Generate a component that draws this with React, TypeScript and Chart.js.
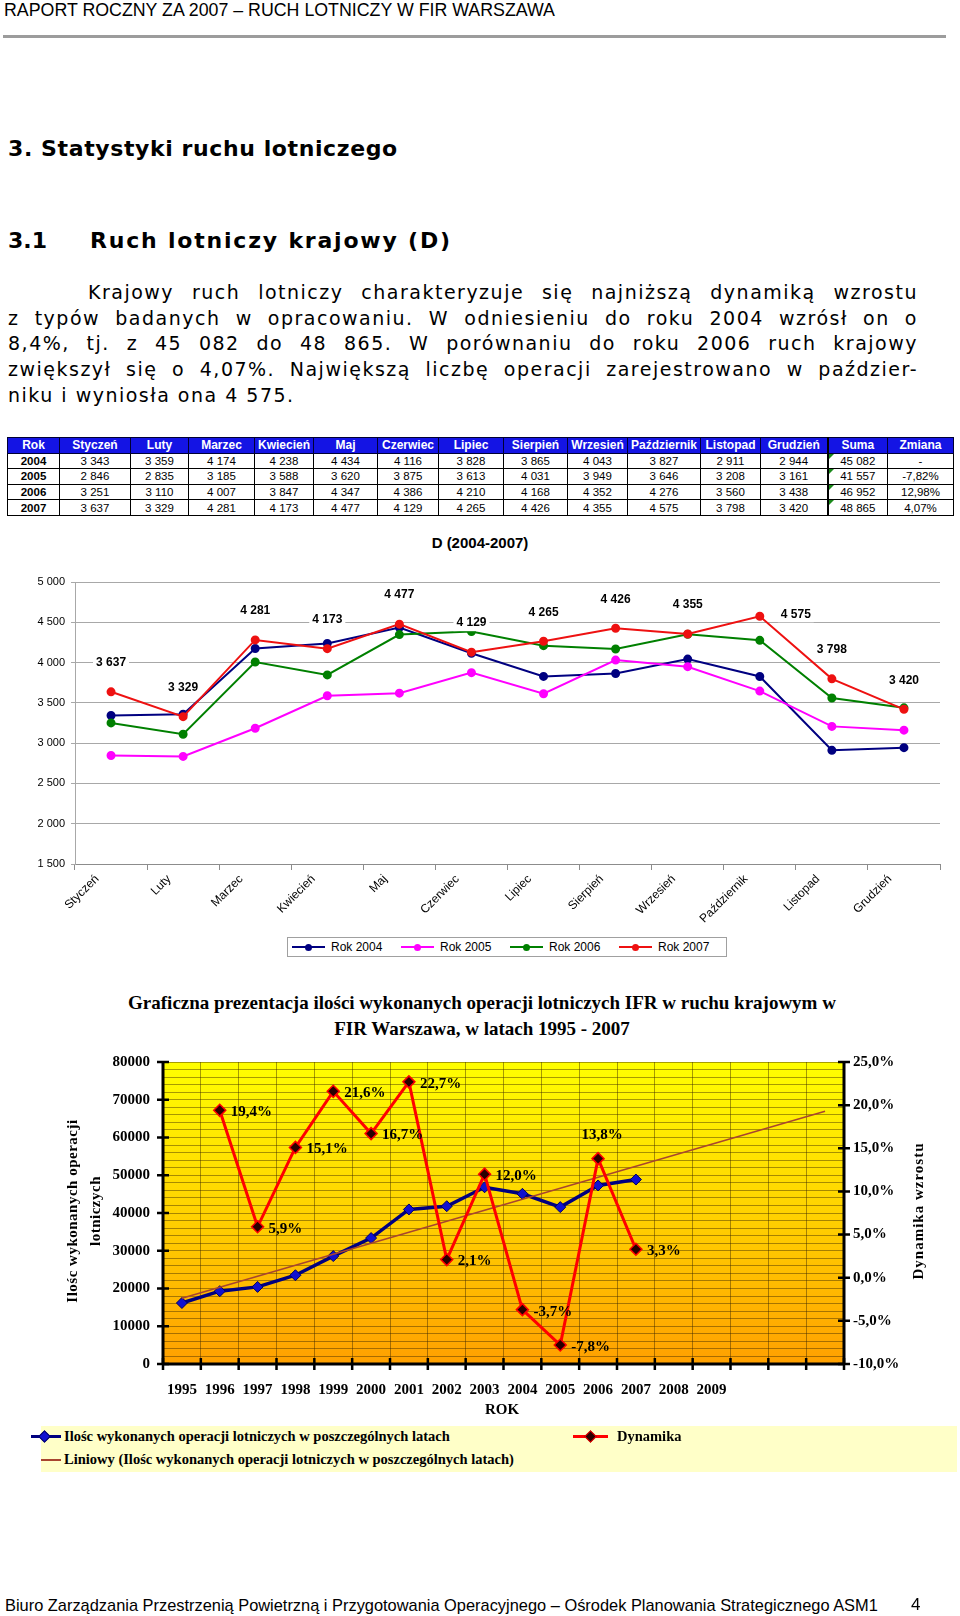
import React, { useEffect, useRef } from 'react';
import { Chart, registerables } from 'chart.js';

Chart.register(...registerables);

// ---------------- data ----------------
const months = ['Styczeń', 'Luty', 'Marzec', 'Kwiecień', 'Maj', 'Czerwiec', 'Lipiec', 'Sierpień', 'Wrzesień', 'Październik', 'Listopad', 'Grudzień'];
const tableYears = ['2004', '2005', '2006', '2007'];
const rok2004 = [3343, 3359, 4174, 4238, 4434, 4116, 3828, 3865, 4043, 3827, 2911, 2944];
const rok2005 = [2846, 2835, 3185, 3588, 3620, 3875, 3613, 4031, 3949, 3646, 3208, 3161];
const rok2006 = [3251, 3110, 4007, 3847, 4347, 4386, 4210, 4168, 4352, 4276, 3560, 3438];
const rok2007 = [3637, 3329, 4281, 4173, 4477, 4129, 4265, 4426, 4355, 4575, 3798, 3420];
const yearSums = [45082, 41557, 46952, 48865];
const yearChanges = ['-', '-7,82%', '12,98%', '4,07%'];
const monthlyMin = 1500;
const monthlyMax = 5000;
const monthlyStep = 500;

const annualYears = ['1995', '1996', '1997', '1998', '1999', '2000', '2001', '2002', '2003', '2004', '2005', '2006', '2007', '2008', '2009', '', '', ''];
const annualOperations = [16155, 19289, 20427, 23511, 28590, 33364, 40938, 41798, 46814, 45082, 41557, 47300, 48865];
const annualDynamics = [null, 19.4, 5.9, 15.1, 21.6, 16.7, 22.7, 2.1, 12.0, -3.7, -7.8, 13.8, 3.3];
const trendFirst = 17400;
const trendLast = 66960;
const opsMin = 0;
const opsMax = 80000;
const opsMajor = 10000;
const opsMinor = 2000;
const dynMin = -10;
const dynMax = 25;
const dynStep = 5;

// ---------------- helpers ----------------
const SANS = '"Liberation Sans", Arial, sans-serif';
const VERD = '"DejaVu Sans", Verdana, sans-serif';
const SERIF = '"Liberation Serif", "Times New Roman", serif';
const fmt = (n: number) => String(n).replace(/\B(?=(\d{3})+(?!\d))/g, ' ');
const pct = (v: number) => v.toFixed(1).replace('.', ',') + '%';

const monthlySeries = [
  { label: 'Rok 2004', data: rok2004, color: '#000080' },
  { label: 'Rok 2005', data: rok2005, color: '#FF00FF' },
  { label: 'Rok 2006', data: rok2006, color: '#008000' },
  { label: 'Rok 2007', data: rok2007, color: '#EE1111' },
];

// ---------------- chart 1 ----------------
function MonthlyChart() {
  const ref = useRef<HTMLCanvasElement>(null);
  useEffect(() => {
    const labelPlugin = {
      id: 'labels2007',
      afterDatasetsDraw(chart: any) {
        const meta = chart.getDatasetMeta(3);
        const ctx = chart.ctx;
        ctx.save();
        ctx.font = `bold 12px ${SANS}`;
        ctx.textAlign = 'center';
        ctx.textBaseline = 'middle';
        meta.data.forEach((pt: any, i: number) => {
          const text = fmt(rok2007[i]);
          let x = pt.x;
          let y = pt.y - 29;
          if (i === 9) { x = pt.x + 36; y = pt.y - 2; }
          const w = ctx.measureText(text).width;
          ctx.fillStyle = '#fff';
          ctx.fillRect(x - w / 2 - 3, y - 8, w + 6, 16);
          ctx.fillStyle = '#000';
          ctx.fillText(text, x, y);
        });
        ctx.restore();
      },
    };
    const chart = new Chart(ref.current as HTMLCanvasElement, {
      type: 'line',
      data: {
        labels: months,
        datasets: monthlySeries.map((s, i) => ({
          label: s.label,
          data: s.data,
          borderColor: s.color,
          backgroundColor: s.color,
          pointBackgroundColor: s.color,
          pointBorderColor: s.color,
          borderWidth: 2,
          pointRadius: 3.5,
          tension: 0,
          fill: false,
          order: 3 - i,
        })),
      },
      options: {
        animation: false,
        responsive: false,
        layout: { padding: { top: 22, right: 20, left: 0, bottom: 0 } },
        plugins: { legend: { display: false }, title: { display: false }, tooltip: { enabled: false } },
        scales: {
          x: {
            offset: true,
            grid: { display: true, drawOnChartArea: false, drawTicks: true, tickLength: 6, offset: true, color: '#8c8c8c' },
            border: { display: true, color: '#8c8c8c' },
            ticks: { minRotation: 45, maxRotation: 45, autoSkip: false, padding: 2, labelOffset: -14, color: '#000', font: { family: SANS, size: 12 } },
            afterFit: (s: any) => { s.height = 66; },
          },
          y: {
            min: monthlyMin,
            max: monthlyMax,
            ticks: { stepSize: monthlyStep, callback: (v: any) => fmt(Number(v)), color: '#000', padding: 6, font: { family: SANS, size: 11 } },
            grid: { color: '#a8a8a8', tickLength: 4 },
            border: { display: true, color: '#a8a8a8' },
            afterFit: (s: any) => { s.width = 75; },
          },
        },
      } as any,
      plugins: [labelPlugin],
    });
    return () => chart.destroy();
  }, []);
  return <canvas ref={ref} width={960} height={370} style={{ position: 'absolute', left: 0, top: 560, width: 960, height: 370 }} />;
}

// ---------------- chart 2 ----------------
function AnnualChart() {
  const ref = useRef<HTMLCanvasElement>(null);
  useEffect(() => {
    const bgPlugin = {
      id: 'plotBg',
      beforeDraw(chart: any) {
        const { ctx, chartArea: a } = chart;
        const g = ctx.createLinearGradient(0, a.top, 0, a.bottom);
        g.addColorStop(0, '#FFFF00');
        g.addColorStop(0.5, '#FFD200');
        g.addColorStop(1, '#FFA000');
        ctx.save();
        ctx.fillStyle = g;
        ctx.fillRect(a.left, a.top, a.right - a.left, a.bottom - a.top);
        ctx.restore();
      },
    };
    const axesPlugin = {
      id: 'crossAxes',
      afterDraw(chart: any) {
        const { ctx, chartArea: a } = chart;
        const ys = chart.scales.y;
        const y1 = chart.scales.y1;
        ctx.save();
        ctx.strokeStyle = '#000';
        ctx.lineWidth = 3;
        ctx.beginPath();
        ctx.moveTo(a.left, a.top - 1); ctx.lineTo(a.left, a.bottom + 1);
        ctx.moveTo(a.right, a.top - 1); ctx.lineTo(a.right, a.bottom + 1);
        ctx.moveTo(a.left, a.bottom); ctx.lineTo(a.right, a.bottom);
        ctx.stroke();
        ctx.lineWidth = 2.5;
        ctx.beginPath();
        for (let v = opsMin; v <= opsMax; v += opsMajor) {
          const y = ys.getPixelForValue(v);
          ctx.moveTo(a.left - 6, y); ctx.lineTo(a.left + 6, y);
        }
        for (let v = dynMin; v <= dynMax; v += dynStep) {
          const y = y1.getPixelForValue(v);
          ctx.moveTo(a.right - 6, y); ctx.lineTo(a.right + 6, y);
        }
        const n = annualYears.length;
        for (let i = 0; i <= n; i++) {
          const x = a.left + (i * (a.right - a.left)) / n;
          ctx.moveTo(x, a.bottom - 6); ctx.lineTo(x, a.bottom + 6);
        }
        ctx.stroke();
        // dynamics labels
        const meta = chart.getDatasetMeta(0);
        ctx.font = `bold 15px ${SERIF}`;
        ctx.fillStyle = '#000';
        ctx.textBaseline = 'middle';
        meta.data.forEach((pt: any, i: number) => {
          const v = annualDynamics[i];
          if (v === null || v === undefined) return;
          const text = pct(v);
          if (i === 11) {
            ctx.textAlign = 'center';
            ctx.fillText(text, pt.x + 4, pt.y - 24);
          } else {
            ctx.textAlign = 'left';
            ctx.fillText(text, pt.x + 11, pt.y + 2);
          }
        });
        ctx.restore();
      },
    };
    const trendData = annualYears.map((_, i) => (i === 0 ? trendFirst : i === annualYears.length - 1 ? trendLast : null));
    const chart = new Chart(ref.current as HTMLCanvasElement, {
      type: 'line',
      data: {
        labels: annualYears,
        datasets: [
          {
            label: 'Dynamika',
            data: annualDynamics,
            yAxisID: 'y1',
            borderColor: '#FF0000',
            borderWidth: 3,
            pointStyle: 'rectRot',
            pointRadius: 6,
            pointBackgroundColor: '#2a0000',
            pointBorderColor: '#FF0000',
            pointBorderWidth: 1.5,
            tension: 0,
            fill: false,
            order: 0,
          },
          {
            label: 'Liniowy (Ilośc wykonanych operacji lotniczych w poszczególnych latach)',
            data: trendData,
            yAxisID: 'y',
            borderColor: '#A8452F',
            borderWidth: 1.5,
            pointRadius: 0,
            spanGaps: true,
            tension: 0,
            fill: false,
            order: 1,
          },
          {
            label: 'Ilośc wykonanych operacji lotniczych w poszczególnych latach',
            data: annualOperations,
            yAxisID: 'y',
            borderColor: '#000080',
            borderWidth: 3.5,
            pointStyle: 'rectRot',
            pointRadius: 5.5,
            pointBackgroundColor: '#1010D0',
            pointBorderColor: '#000060',
            pointBorderWidth: 1,
            tension: 0,
            fill: false,
            order: 2,
          },
        ],
      },
      options: {
        animation: false,
        responsive: false,
        layout: { padding: { top: 18, right: 0, left: 0, bottom: 0 } },
        plugins: { legend: { display: false }, title: { display: false }, tooltip: { enabled: false } },
        scales: {
          x: {
            offset: true,
            grid: { display: true, offset: true, drawTicks: false, color: 'rgba(60,40,0,0.45)', lineWidth: 1 },
            border: { display: false },
            ticks: { autoSkip: false, maxRotation: 0, minRotation: 0, padding: 17, color: '#000', font: { family: SERIF, size: 15, weight: 'bold' } },
            afterFit: (s: any) => { s.height = 46; },
          },
          y: {
            position: 'left',
            min: opsMin,
            max: opsMax,
            ticks: {
              stepSize: opsMinor,
              autoSkip: false,
              callback: (v: any) => (Number(v) % opsMajor === 0 ? String(v) : ''),
              color: '#000',
              padding: 13,
              font: { family: SERIF, size: 15, weight: 'bold' },
            },
            grid: { drawTicks: false, color: 'rgba(60,40,0,0.45)', lineWidth: 1 },
            border: { display: false },
            afterFit: (s: any) => { s.width = 163; },
          },
          y1: {
            position: 'right',
            min: dynMin,
            max: dynMax,
            ticks: { stepSize: dynStep, autoSkip: false, callback: (v: any) => pct(Number(v)), color: '#000', padding: 9, font: { family: SERIF, size: 15, weight: 'bold' } },
            grid: { drawOnChartArea: false, drawTicks: false },
            border: { display: false },
            afterFit: (s: any) => { s.width = 116; },
          },
        },
      } as any,
      plugins: [bgPlugin, axesPlugin],
    });
    return () => chart.destroy();
  }, []);
  return <canvas ref={ref} width={960} height={370} style={{ position: 'absolute', left: 0, top: 1040, width: 960, height: 370 }} />;
}

// ---------------- table ----------------
const colWidths = [52, 71, 58, 66, 59, 64, 61, 65, 64, 60, 73, 60, 67, 60, 66];
function DataTable() {
  const headers = ['Rok', ...months, 'Suma', 'Zmiana'];
  const rows = [rok2004, rok2005, rok2006, rok2007];
  const cell: React.CSSProperties = { border: '1px solid #000', padding: 0, textAlign: 'center', height: 14.6, lineHeight: '14px', whiteSpace: 'nowrap', overflow: 'hidden' };
  return (
    <table style={{ position: 'absolute', left: 7, top: 437, width: 946, borderCollapse: 'collapse', tableLayout: 'fixed', font: `11.5px ${SANS}`, color: '#000' }}>
      <colgroup>{colWidths.map((w, i) => <col key={i} style={{ width: w }} />)}</colgroup>
      <thead>
        <tr>
          {headers.map((h, i) => (
            <th key={i} style={{ ...cell, background: '#1414E4', color: '#fff', fontWeight: 'bold', fontSize: 12, borderColor: '#000033', borderLeft: i === 13 ? '2px solid #000' : '1px solid #000033' }}>{h}</th>
          ))}
        </tr>
      </thead>
      <tbody>
        {rows.map((r, ri) => (
          <tr key={ri}>
            <td style={{ ...cell, fontWeight: 'bold' }}>{tableYears[ri]}</td>
            {r.map((v, i) => <td key={i} style={cell}>{fmt(v)}</td>)}
            <td style={{ ...cell, position: 'relative', borderLeft: '2px solid #000' }}>
              <span style={{ position: 'absolute', left: 0, top: 0, width: 0, height: 0, borderTop: '5px solid #1b8a1b', borderRight: '5px solid transparent' }} />
              {fmt(yearSums[ri])}
            </td>
            <td style={cell}>{yearChanges[ri]}</td>
          </tr>
        ))}
      </tbody>
    </table>
  );
}

// ---------------- legends ----------------
function MonthlyLegend() {
  return (
    <div style={{ position: 'absolute', left: 287, top: 937, width: 440, height: 20, border: '1px solid #a0a0a0', boxSizing: 'border-box', font: `12px ${SANS}` }}>
      {monthlySeries.map((s, i) => (
        <div key={i} style={{ position: 'absolute', left: 4 + i * 109, top: 0, height: 18, width: 105 }}>
          <span style={{ position: 'absolute', left: 0, top: 8, width: 33, height: 2, background: s.color }} />
          <span style={{ position: 'absolute', left: 13, top: 5.5, width: 7, height: 7, borderRadius: 4, background: s.color }} />
          <span style={{ position: 'absolute', left: 39, top: 2, lineHeight: '14px', whiteSpace: 'nowrap' }}>{s.label}</span>
        </div>
      ))}
    </div>
  );
}

function AnnualLegend() {
  const diamond = (fill: string, edge: string): React.CSSProperties => ({ position: 'absolute', width: 7, height: 7, background: fill, border: `1.5px solid ${edge}`, transform: 'rotate(45deg)' });
  return (
    <div style={{ position: 'absolute', left: 41, top: 1426, width: 916, height: 46, background: '#FFFFC8', font: `bold 14.5px ${SERIF}` }}>
      <span style={{ position: 'absolute', left: -10, top: 9, width: 30, height: 3, background: '#000080' }} />
      <span style={{ ...diamond('#1010D0', '#000060'), left: -1, top: 5.5 }} />
      <span style={{ position: 'absolute', left: 23, top: 2, whiteSpace: 'nowrap', lineHeight: '17px' }}>Ilośc wykonanych operacji lotniczych w poszczególnych latach</span>
      <span style={{ position: 'absolute', left: 532, top: 9, width: 35, height: 3, background: '#FF0000' }} />
      <span style={{ ...diamond('#2a0000', '#FF0000'), left: 545, top: 5.5 }} />
      <span style={{ position: 'absolute', left: 576, top: 2, whiteSpace: 'nowrap', lineHeight: '17px' }}>Dynamika</span>
      <span style={{ position: 'absolute', left: 0, top: 33, width: 20, height: 1.5, background: '#A8452F' }} />
      <span style={{ position: 'absolute', left: 23, top: 25, whiteSpace: 'nowrap', lineHeight: '17px' }}>Liniowy (Ilośc wykonanych operacji lotniczych w poszczególnych latach)</span>
    </div>
  );
}

// ---------------- page ----------------
const abs = (left: number, top: number, extra: React.CSSProperties = {}): React.CSSProperties => ({ position: 'absolute', left, top, whiteSpace: 'nowrap', ...extra });

export default function App() {
  const para: React.CSSProperties = { font: `19px ${VERD}`, lineHeight: '26px', letterSpacing: '1.5px', textAlign: 'justify', textAlignLast: 'justify' as any, whiteSpace: 'nowrap' };
  return (
    <div style={{ position: 'absolute', left: 0, top: 0, width: 960, height: 1616, background: '#fff', color: '#000', overflow: 'hidden' }}>
      <div style={abs(4, 0, { font: `17.8px ${SANS}`, lineHeight: '20px' })}>RAPORT ROCZNY ZA 2007 – RUCH LOTNICZY W FIR WARSZAWA</div>
      <div style={{ position: 'absolute', left: 3, top: 35, width: 943, height: 3, background: '#9c9c9c' }} />

      <div style={abs(8, 136, { font: `bold 22px ${VERD}`, lineHeight: '26px', letterSpacing: '0.6px' })}>3. Statystyki ruchu lotniczego</div>
      <div style={abs(8, 228, { font: `bold 22px ${VERD}`, lineHeight: '26px' })}>3.1</div>
      <div style={abs(90, 228, { font: `bold 22px ${VERD}`, lineHeight: '26px', letterSpacing: '1.8px' })}>Ruch lotniczy krajowy (D)</div>

      <div style={{ ...para, position: 'absolute', left: 88, top: 279, width: 830 }}>Krajowy ruch lotniczy charakteryzuje się najniższą dynamiką wzrostu</div>
      <div style={{ ...para, position: 'absolute', left: 8, top: 305, width: 910 }}>z typów badanych w opracowaniu. W odniesieniu do roku 2004 wzrósł on o</div>
      <div style={{ ...para, position: 'absolute', left: 8, top: 330, width: 910 }}>8,4%, tj. z 45 082 do 48 865. W porównaniu do roku 2006 ruch krajowy</div>
      <div style={{ ...para, position: 'absolute', left: 8, top: 356, width: 910 }}>zwiększył się o 4,07%. Największą liczbę operacji zarejestrowano w paździer-</div>
      <div style={{ ...para, position: 'absolute', left: 8, top: 382, textAlign: 'left', textAlignLast: 'left' as any }}>niku i wyniosła ona 4 575.</div>

      <DataTable />

      <div style={{ position: 'absolute', left: 0, top: 533, width: 960, textAlign: 'center', font: `bold 15px ${SANS}`, lineHeight: '20px' }}>D (2004-2007)</div>
      <MonthlyChart />
      <MonthlyLegend />

      <div style={{ position: 'absolute', left: 2, top: 990, width: 960, textAlign: 'center', font: `bold 19px ${SERIF}`, lineHeight: '26px' }}>
        Graficzna prezentacja ilości wykonanych operacji lotniczych IFR w ruchu krajowym w<br />FIR Warszawa, w latach 1995 - 2007
      </div>
      <AnnualChart />
      <div style={{ position: 'absolute', left: 72, top: 1211, transform: 'translate(-50%,-50%) rotate(-90deg)', font: `bold 15px ${SERIF}`, whiteSpace: 'nowrap', letterSpacing: '0.5px' }}>Ilośc wykonanych operacji</div>
      <div style={{ position: 'absolute', left: 95, top: 1211, transform: 'translate(-50%,-50%) rotate(-90deg)', font: `bold 15px ${SERIF}`, whiteSpace: 'nowrap', letterSpacing: '0.5px' }}>lotniczych</div>
      <div style={{ position: 'absolute', left: 918, top: 1211, transform: 'translate(-50%,-50%) rotate(-90deg)', font: `bold 15px ${SERIF}`, whiteSpace: 'nowrap', letterSpacing: '1px' }}>Dynamika wzrostu</div>
      <div style={{ position: 'absolute', left: 502, top: 1409, transform: 'translate(-50%,-50%)', font: `bold 15px ${SERIF}` }}>ROK</div>
      <AnnualLegend />

      <div style={abs(5, 1596, { font: `16.4px ${SANS}`, lineHeight: '18px' })}>Biuro Zarządzania Przestrzenią Powietrzną i Przygotowania Operacyjnego – Ośrodek Planowania Strategicznego ASM1</div>
      <div style={abs(911, 1595, { font: `17px ${SANS}`, lineHeight: '20px' })}>4</div>
    </div>
  );
}
